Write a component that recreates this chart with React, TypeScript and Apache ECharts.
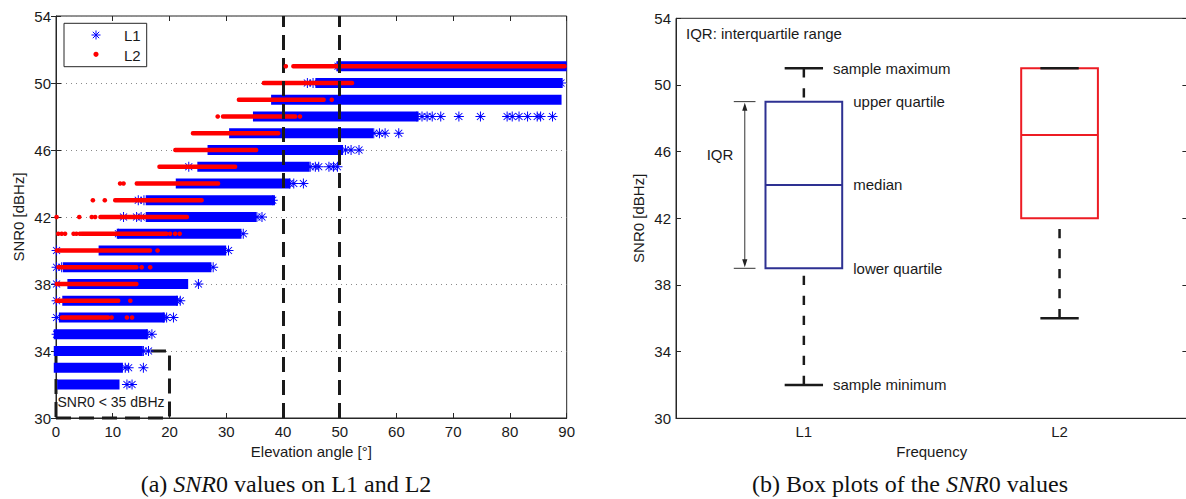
import React, { useEffect, useRef } from 'react';
import * as echarts from 'echarts';

// ---------------- (a) SNR0 vs elevation angle ----------------
// Dense runs of L1 observations: [SNR0 dBHz, first elevation °, last elevation °]
const l1Runs: number[][] = [
  [51, 50.2, 90], [50, 46.5, 88.5], [49, 38.7, 88.3], [48, 35.5, 63.1], [47, 31.3, 55.1],
  [46, 27.5, 49.8], [45, 25.7, 43.9], [44, 21.9, 40.5], [43, 16.6, 37.8], [42, 16.6, 34.5],
  [41, 11.5, 31.9], [40, 8.3, 29.2], [39, 2.0, 26.6], [38, 2.8, 22.5], [37, 1.9, 20.7],
  [36, 1.3, 18.4], [35, 0.4, 15.4], [34, 0.4, 14.5], [33, 0.4, 11.0], [32, 1.0, 10.4],
];
// Isolated L1 observations: [elevation °, SNR0 dBHz]
const l1Isolated: number[][] = [
  [49.7, 51],
  [44.3, 50], [45.3, 50], [89.0, 50],
  [63.6, 48], [64.5, 48], [65.4, 48], [66.3, 48], [67.8, 48], [71.0, 48], [74.8, 48],
  [79.5, 48], [80.4, 48], [81.6, 48], [83.1, 48], [84.8, 48], [85.4, 48], [87.5, 48],
  [56.0, 47], [57.0, 47], [58.0, 47], [60.4, 47],
  [51.0, 46], [52.0, 46], [53.4, 46],
  [23.4, 45], [44.8, 45], [45.7, 45], [46.3, 45], [48.1, 45], [48.9, 45], [49.6, 45],
  [41.2, 44], [41.9, 44], [43.6, 44],
  [14.5, 43], [15.5, 43], [38.2, 43],
  [11.9, 42], [14.2, 42], [15.0, 42], [35.4, 42], [36.3, 42],
  [11.0, 41], [33.0, 41],
  [0.1, 40], [30.4, 40],
  [0.1, 39], [1.0, 39], [27.7, 39],
  [0.1, 38], [25.1, 38],
  [0.1, 37], [21.3, 37], [21.9, 37],
  [0.1, 36], [18.9, 36], [19.5, 36], [20.7, 36],
  [0.1, 35], [16.0, 35], [16.9, 35],
  [15.4, 34], [16.3, 34],
  [12.2, 33], [12.8, 33], [15.4, 33],
  [12.5, 32], [13.4, 32],
];
// Dense runs of L2 observations: [SNR0 dBHz, first elevation °, last elevation °]
const l2Runs: number[][] = [
  [51, 41.8, 89.7], [50, 36.6, 52.2], [49, 32.2, 47.2], [48, 29.4, 42.2], [47, 24.1, 39.2],
  [46, 21.0, 35.3], [45, 18.2, 31.6], [44, 14.2, 28.6], [43, 10.4, 25.7], [42, 7.8, 23.1],
  [41, 4.5, 19.5], [40, 0.1, 16.6], [39, 0.4, 14.2], [38, 0.1, 14.2], [37, 0.1, 11.0],
  [36, 1.0, 9.2],
];
// Isolated L2 observations: [elevation °, SNR0 dBHz]
const l2Isolated: number[][] = [
  [40.5, 51], [48.6, 49], [28.5, 48], [43.0, 48],
  [11.3, 44], [11.9, 44], [6.5, 43], [8.6, 43],
  [0.1, 42], [4.1, 42], [6.3, 42], [6.9, 42],
  [0.4, 41], [1.0, 41], [1.6, 41], [3.1, 41], [3.6, 41], [4.2, 41], [20.1, 41], [21.0, 41], [21.8, 41],
  [17.9, 40], [15.1, 39], [16.6, 39], [13.1, 37], [9.8, 36], [12.5, 36], [13.4, 36],
];
const elevationMarkers = [40, 50];
const lowSnrElevation = [0, 20];
const lowSnrRange = [30, 34];
const lowSnrLabel = 'SNR0 < 35 dBHz';

// ---------------- (b) Box plots ----------------
const boxCategories = ['L1', 'L2'];
const boxMin = [32, 36];
const boxQ1 = [39, 42];
const boxMedian = [44, 47];
const boxQ3 = [49, 51];
const boxMax = [51, 51];

const FONT = '"Liberation Sans", Arial, Helvetica, sans-serif';
const SERIF = '"Liberation Serif", "Times New Roman", serif';
const AX = '#262626';
const TXT = '#1a1a1a';
const BLUE = '#0000ff';
const RED = '#ff0000';
const BOX_COLORS = ['#2e3192', '#ed1c24'];
const STAR =
  'path://M0 9H20V11H0Z M9 0H11V20H9Z M3.71 2.29L17.71 16.29L16.29 17.71L2.29 3.71Z M16.29 2.29L17.71 3.71L3.71 17.71L2.29 16.29Z';

export default function App() {
  const ref = useRef<HTMLDivElement>(null);

  useEffect(() => {
    const chart = echarts.init(ref.current!, null, { renderer: 'svg' });

    const tick = { show: true, inside: true, length: 5, lineStyle: { color: AX, width: 1 } };
    const lbl = { color: TXT, fontSize: 15, fontFamily: FONT };
    const axLine = { show: true, lineStyle: { color: AX, width: 1 } };

    const runRender = (height: number, ext: number, color: string, radius: number) =>
      (params: any, api: any) => {
        const y = api.value(0);
        const p0 = api.coord([api.value(1), y]);
        const p1 = api.coord([api.value(2), y]);
        const right = api.coord([90, y])[0];
        const xEnd = Math.min(p1[0] + ext, right);
        return {
          type: 'rect',
          shape: { x: p0[0] - ext, y: p0[1] - height / 2, width: xEnd - (p0[0] - ext), height, r: radius },
          style: { fill: color },
        };
      };

    const boxData = boxCategories.map((_, i) => [i + 1, boxMin[i], boxQ1[i], boxMedian[i], boxQ3[i], boxMax[i]]);

    const boxRender = (params: any, api: any) => {
      const pos = api.value(0);
      const vMin = api.value(1), q1 = api.value(2), med = api.value(3), q3 = api.value(4), vMax = api.value(5);
      const cx = api.coord([pos, med])[0];
      const yOf = (v: number) => api.coord([pos, v])[1];
      const halfW = api.size([0.3, 0])[0] / 2;
      const capHalf = halfW / 2;
      const color = BOX_COLORS[params.dataIndex];
      const dash = { stroke: TXT, lineWidth: 2.5, lineDash: [9.3, 10.7] };
      const children: any[] = [];
      if (vMax > q3) children.push({ type: 'line', shape: { x1: cx, y1: yOf(vMax), x2: cx, y2: yOf(q3) }, style: dash });
      if (vMin < q1) children.push({ type: 'line', shape: { x1: cx, y1: yOf(vMin), x2: cx, y2: yOf(q1) }, style: dash });
      children.push({
        type: 'rect',
        shape: { x: cx - halfW, y: yOf(q3), width: 2 * halfW, height: yOf(q1) - yOf(q3) },
        style: { fill: 'none', stroke: color, lineWidth: 2 },
      });
      children.push({ type: 'line', shape: { x1: cx - halfW, y1: yOf(med), x2: cx + halfW, y2: yOf(med) }, style: { stroke: color, lineWidth: 2 } });
      children.push({ type: 'line', shape: { x1: cx - capHalf, y1: yOf(vMax), x2: cx + capHalf, y2: yOf(vMax) }, style: { stroke: TXT, lineWidth: 2.5 } });
      children.push({ type: 'line', shape: { x1: cx - capHalf, y1: yOf(vMin), x2: cx + capHalf, y2: yOf(vMin) }, style: { stroke: TXT, lineWidth: 2.5 } });

      if (params.dataIndex === 0) {
        const t = (text: string, x: number, y: number) => ({
          type: 'text',
          style: { text, x, y, fill: TXT, fontSize: 15, fontFamily: FONT, align: 'left', verticalAlign: 'middle' },
        });
        children.push(t('sample maximum', cx + capHalf + 10, yOf(vMax)));
        children.push(t('upper quartile', cx + halfW + 11, yOf(q3)));
        children.push(t('median', cx + halfW + 11, yOf(med)));
        children.push(t('lower quartile', cx + halfW + 11, yOf(q1)));
        children.push(t('sample minimum', cx + capHalf + 10, yOf(vMin)));
        const left = cx - halfW;
        const ax = left - 20.7;
        const yT = yOf(q3), yB = yOf(q1);
        const thin = { stroke: '#333', lineWidth: 1 };
        children.push({ type: 'line', shape: { x1: ax, y1: yT + 4, x2: ax, y2: yB - 4 }, style: thin });
        children.push({ type: 'line', shape: { x1: left - 31.7, y1: yT, x2: left - 10, y2: yT }, style: thin });
        children.push({ type: 'line', shape: { x1: left - 31.7, y1: yB, x2: left - 10, y2: yB }, style: thin });
        children.push({ type: 'polygon', shape: { points: [[ax, yT + 1], [ax - 2.6, yT + 9], [ax + 2.6, yT + 9]] }, style: { fill: '#222' } });
        children.push({ type: 'polygon', shape: { points: [[ax, yB - 1], [ax - 2.6, yB - 9], [ax + 2.6, yB - 9]] }, style: { fill: '#222' } });
        children.push({
          type: 'text',
          style: { text: 'IQR', x: left - 45.5, y: yT + (yB - yT) * 0.32, fill: TXT, fontSize: 15, fontFamily: FONT, align: 'center', verticalAlign: 'middle' },
        });
      }
      return { type: 'group', children };
    };

    const captionRich = {
      n: { fontFamily: SERIF, fontSize: 24, fill: '#111', color: '#111' },
      i: { fontFamily: SERIF, fontSize: 24, fontStyle: 'italic', fill: '#111', color: '#111' },
    };

    const option: any = {
      animation: false,
      backgroundColor: '#ffffff',
      grid: [
        { left: 56, top: 16, width: 510.7, height: 402, show: true, borderColor: AX, borderWidth: 1, backgroundColor: 'transparent', outerBoundsMode: 'none' },
        { left: 676, top: 18.3, width: 511.4, height: 400, show: true, borderColor: AX, borderWidth: 1, backgroundColor: 'transparent', outerBoundsMode: 'none' },
      ],
      xAxis: [
        {
          gridIndex: 0, type: 'value', min: 0, max: 90, interval: 10, position: 'bottom',
          axisLine: axLine, axisTick: tick, axisLabel: { ...lbl, margin: 6 }, splitLine: { show: false },
          name: 'Elevation angle [°]', nameLocation: 'middle', nameGap: 25, nameTextStyle: { ...lbl },
        },
        {
          gridIndex: 0, type: 'value', min: 0, max: 90, interval: 10, position: 'top',
          axisLine: { show: false }, axisTick: tick, axisLabel: { show: false }, splitLine: { show: false },
        },
        {
          gridIndex: 1, type: 'value', min: 0.5, max: 2.5, interval: 0.5, position: 'bottom',
          axisLine: axLine, axisTick: { show: false }, splitLine: { show: false },
          axisLabel: {
            ...lbl, margin: 6,
            formatter: (v: number) => (Number.isInteger(v) ? boxCategories[v - 1] : ''),
          },
          name: 'Frequency', nameLocation: 'middle', nameGap: 25, nameTextStyle: { ...lbl },
        },
      ],
      yAxis: [
        {
          gridIndex: 0, type: 'value', min: 30, max: 54, interval: 4, position: 'left',
          axisLine: axLine, axisTick: tick, axisLabel: { ...lbl, margin: 5 },
          splitLine: { show: true, lineStyle: { color: '#8a8a8a', width: 1, type: [1, 4] } },
          name: 'SNR0 [dBHz]', nameLocation: 'middle', nameGap: 30, nameTextStyle: { ...lbl },
        },
        {
          gridIndex: 0, type: 'value', min: 30, max: 54, interval: 4, position: 'right',
          axisLine: { show: false }, axisTick: tick, axisLabel: { show: false }, splitLine: { show: false },
        },
        {
          gridIndex: 1, type: 'value', min: 30, max: 54, interval: 4, position: 'left',
          axisLine: axLine, axisTick: tick, axisLabel: { ...lbl, margin: 5 }, splitLine: { show: false },
          name: 'SNR0 [dBHz]', nameLocation: 'middle', nameGap: 30, nameTextStyle: { ...lbl },
        },
        {
          gridIndex: 1, type: 'value', min: 30, max: 54, interval: 4, position: 'right',
          axisLine: { show: false }, axisTick: tick, axisLabel: { show: false }, splitLine: { show: false },
        },
      ],
      series: [
        {
          name: 'L1 runs', type: 'custom', xAxisIndex: 0, yAxisIndex: 0, z: 2, silent: true,
          renderItem: runRender(10, 4.5, BLUE, 0), encode: { x: [1, 2], y: 0 }, data: l1Runs,
        },
        {
          name: 'L1', type: 'scatter', xAxisIndex: 0, yAxisIndex: 0, z: 3, silent: true,
          symbol: STAR, symbolSize: 10, itemStyle: { color: BLUE, opacity: 1 }, data: l1Isolated,
        },
        {
          name: 'L2 runs', type: 'custom', xAxisIndex: 0, yAxisIndex: 0, z: 4, silent: true,
          renderItem: runRender(4.4, 2, RED, 2), encode: { x: [1, 2], y: 0 }, data: l2Runs,
        },
        {
          name: 'L2', type: 'scatter', xAxisIndex: 0, yAxisIndex: 0, z: 5, silent: true,
          symbol: 'circle', symbolSize: 4.6, itemStyle: { color: RED, opacity: 1 }, data: l2Isolated,
        },
        {
          name: 'markers', type: 'scatter', xAxisIndex: 0, yAxisIndex: 0, z: 10, silent: true, data: [],
          markLine: {
            silent: true, symbol: ['none', 'none'], label: { show: false },
            lineStyle: { color: '#1a1a1a', width: 3, type: [15, 8] },
            data: elevationMarkers.map((v) => ({ xAxis: v })),
          },
          markArea: {
            silent: true,
            itemStyle: { color: 'rgba(0,0,0,0)', borderColor: '#1a1a1a', borderWidth: 3, borderType: [15, 8] },
            label: { show: true, position: [3, 45], color: TXT, fontSize: 14, fontFamily: FONT },
            data: [[
              { name: lowSnrLabel, xAxis: lowSnrElevation[0], yAxis: lowSnrRange[0] },
              { xAxis: lowSnrElevation[1], yAxis: lowSnrRange[1] },
            ]],
          },
        },
        {
          name: 'Box plots', type: 'custom', xAxisIndex: 2, yAxisIndex: 2, z: 5, silent: true,
          renderItem: boxRender, encode: { x: 0, y: [1, 2, 3, 4, 5] }, data: boxData,
        },
      ],
      graphic: [
        { type: 'rect', z: 20, shape: { x: 64, y: 23.3, width: 82.7, height: 43.4 }, style: { fill: '#fff', stroke: AX, lineWidth: 1 } },
        { type: 'line', z: 21, shape: { x1: 91.5, y1: 35, x2: 100.5, y2: 35 }, style: { stroke: BLUE, lineWidth: 1 } },
        { type: 'line', z: 21, shape: { x1: 96, y1: 30.5, x2: 96, y2: 39.5 }, style: { stroke: BLUE, lineWidth: 1 } },
        { type: 'line', z: 21, shape: { x1: 92.8, y1: 31.8, x2: 99.2, y2: 38.2 }, style: { stroke: BLUE, lineWidth: 1 } },
        { type: 'line', z: 21, shape: { x1: 99.2, y1: 31.8, x2: 92.8, y2: 38.2 }, style: { stroke: BLUE, lineWidth: 1 } },
        { type: 'circle', z: 21, shape: { cx: 96, cy: 54.3, r: 2.6 }, style: { fill: RED } },
        { type: 'text', z: 21, x: 124, y: 35.5, style: { text: 'L1', fill: TXT, fontSize: 15, fontFamily: FONT, textAlign: 'left', textVerticalAlign: 'middle' } },
        { type: 'text', z: 21, x: 124, y: 55, style: { text: 'L2', fill: TXT, fontSize: 15, fontFamily: FONT, textAlign: 'left', textVerticalAlign: 'middle' } },
        { type: 'text', z: 21, x: 686, y: 33.3, style: { text: 'IQR: interquartile range', fill: TXT, fontSize: 15, fontFamily: FONT, textAlign: 'left', textVerticalAlign: 'middle' } },
        {
          type: 'text', z: 21, x: 286, y: 484,
          style: { text: '{n|(a) }{i|SNR}{n|0 values on L1 and L2}', textAlign: 'center', textVerticalAlign: 'middle', rich: captionRich },
        },
        {
          type: 'text', z: 21, x: 910, y: 484,
          style: { text: '{n|(b) Box plots of the }{i|SNR}{n|0 values}', textAlign: 'center', textVerticalAlign: 'middle', rich: captionRich },
        },
      ],
    };

    chart.setOption(option);
    return () => chart.dispose();
  }, []);

  return (
    <div
      ref={ref}
      style={{ position: 'absolute', left: 0, top: 0, width: 1186, height: 499, background: '#ffffff' }}
    />
  );
}
